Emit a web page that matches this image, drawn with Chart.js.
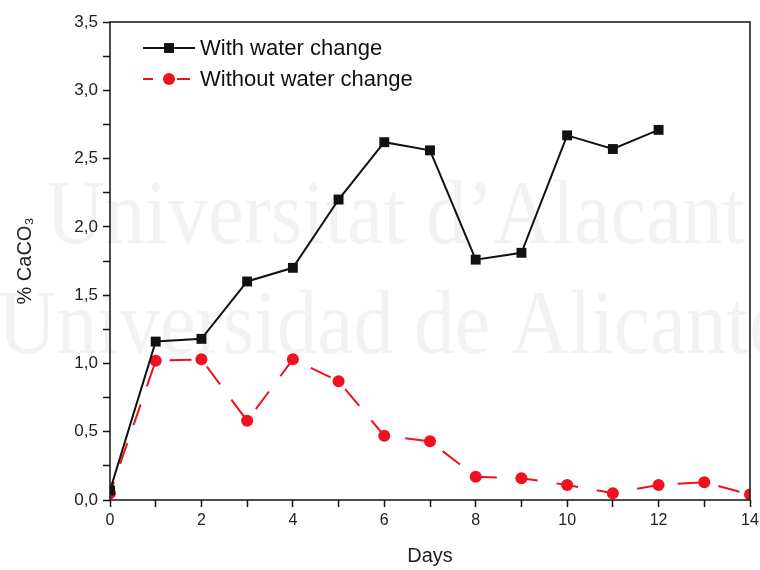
<!DOCTYPE html>
<html>
<head>
<meta charset="utf-8">
<script src="https://cdn.jsdelivr.net/npm/chart.js@4.4.0/dist/chart.umd.min.js"></script>
<style>
    html, body { margin: 0; padding: 0; background: #fff; overflow: hidden; }
    #wrap { width: 760px; height: 570px; }
</style>
</head>
<body>
<div id="wrap"><canvas id="chart"></canvas></div>
<script>
// Values
const days = [0, 1, 2, 3, 4, 5, 6, 7, 8, 9, 10, 11, 12, 13, 14];
const withChange = [0.07, 1.16, 1.18, 1.60, 1.70, 2.20, 2.62, 2.56, 1.76, 1.81, 2.67, 2.57, 2.71];
const withoutChange = [0.05, 1.02, 1.03, 0.58, 1.03, 0.87, 0.47, 0.43, 0.17, 0.16, 0.11, 0.05, 0.11, 0.13, 0.04];
const seriesNames = ['With water change', 'Without water change'];
const watermarkLines = ['Universitat d\u2019Alacant', 'Universidad de Alicante'];

const RED = '#f0101e';
const FONT = "'Liberation Sans', Arial, sans-serif";

function toPoints(values) {
    return values.map((v, i) => ({ x: days[i], y: v }));
}

function commaLabel(v) {
    return v.toFixed(1).replace('.', ',');
}

// faint university watermark behind everything
const watermark = {
    id: 'watermark',
    beforeDraw(chart) {
        const ctx = chart.ctx;
        const sx = 0.88;
        ctx.save();
        ctx.fillStyle = 'rgba(0,0,0,0.05)';
        ctx.font = "92px 'Liberation Serif', 'Times New Roman', serif";
        ctx.textBaseline = 'alphabetic';
        ctx.scale(sx, 1);
        ctx.fillText(watermarkLines[0], 46 / sx, 243);
        ctx.fillText(watermarkLines[1], -2 / sx, 353);
        ctx.restore();
    }
};

// box around the plot area
const frame = {
    id: 'frame',
    afterDatasetsDraw(chart) {
        const { ctx, chartArea: a } = chart;
        ctx.save();
        ctx.strokeStyle = '#111';
        ctx.lineWidth = 1.5;
        ctx.strokeRect(a.left, a.top, a.right - a.left, a.bottom - a.top);
        ctx.restore();
    }
};

// legend drawn inside the plot: line sample + marker + text
const insideLegend = {
    id: 'insideLegend',
    afterDraw(chart) {
        const ctx = chart.ctx;
        ctx.save();
        chart.data.datasets.forEach((ds, i) => {
            const y = 48 + i * 31;
            ctx.strokeStyle = ds.borderColor;
            ctx.lineWidth = 2;
            ctx.beginPath();
            if (ds.borderDash && ds.borderDash.length) {
                ctx.moveTo(143, y); ctx.lineTo(153, y);
                ctx.moveTo(177, y); ctx.lineTo(190, y);
            } else {
                ctx.moveTo(143, y); ctx.lineTo(195, y);
            }
            ctx.stroke();
            ctx.fillStyle = ds.pointBackgroundColor;
            Chart.helpers.drawPoint(ctx, {
                pointStyle: ds.pointStyle,
                radius: ds.pointRadius,
                borderWidth: 0
            }, 169, y);
            ctx.fillStyle = '#111';
            ctx.font = '22px ' + FONT;
            ctx.textBaseline = 'middle';
            ctx.fillText(ds.label, 200, y + 1);
        });
        ctx.restore();
    }
};

const ctx = document.getElementById('chart').getContext('2d');
new Chart(ctx, {
    type: 'line',
    data: {
        datasets: [
            {
                label: seriesNames[0],
                data: toPoints(withChange),
                borderColor: '#111',
                borderWidth: 2,
                pointStyle: 'rect',
                pointRadius: 7,
                pointBackgroundColor: '#111',
                pointBorderWidth: 0,
                tension: 0
            },
            {
                label: seriesNames[1],
                data: toPoints(withoutChange),
                borderColor: RED,
                borderWidth: 2,
                borderDash: [22, 19],
                borderDashOffset: 10,
                pointStyle: 'circle',
                pointRadius: 6,
                pointBackgroundColor: RED,
                pointBorderWidth: 0,
                tension: 0
            }
        ]
    },
    options: {
        responsive: true,
        maintainAspectRatio: false,
        animation: false,
        layout: { padding: { top: 22, right: 10, left: 0, bottom: 0 } },
        plugins: {
            legend: { display: false },
            tooltip: { enabled: false }
        },
        scales: {
            x: {
                type: 'linear',
                min: 0,
                max: 14,
                afterFit(scale) {
                    scale.height = 70;
                    scale.paddingLeft = 0;
                    scale.paddingRight = 0;
                },
                border: { display: false },
                grid: {
                    drawOnChartArea: false,
                    tickLength: 7,
                    tickColor: '#111',
                    tickWidth: 1.5
                },
                ticks: {
                    stepSize: 1,
                    autoSkip: false,
                    maxRotation: 0,
                    color: '#222',
                    padding: 4,
                    font: { family: FONT, size: 16 },
                    callback: v => (v % 2 === 0 ? String(v) : '')
                },
                title: {
                    display: true,
                    text: 'Days',
                    color: '#222',
                    padding: { top: 0, bottom: 2 },
                    font: { family: FONT, size: 20 }
                }
            },
            y: {
                min: 0,
                max: 3.5,
                afterFit(scale) { scale.width = 110; },
                border: { display: false },
                grid: {
                    drawOnChartArea: false,
                    tickLength: 7,
                    tickColor: '#111',
                    tickWidth: 1.5
                },
                ticks: {
                    stepSize: 0.25,
                    autoSkip: false,
                    color: '#222',
                    padding: 5,
                    font: { family: FONT, size: 17 },
                    callback: v => (Math.abs(v * 2 - Math.round(v * 2)) < 1e-6 ? commaLabel(v) : '')
                },
                title: {
                    display: true,
                    text: '% CaCO\u2083',
                    color: '#222',
                    padding: { top: 13, bottom: 0 },
                    font: { family: FONT, size: 20 }
                }
            }
        }
    },
    plugins: [watermark, frame, insideLegend]
});
</script>
</body>
</html>
